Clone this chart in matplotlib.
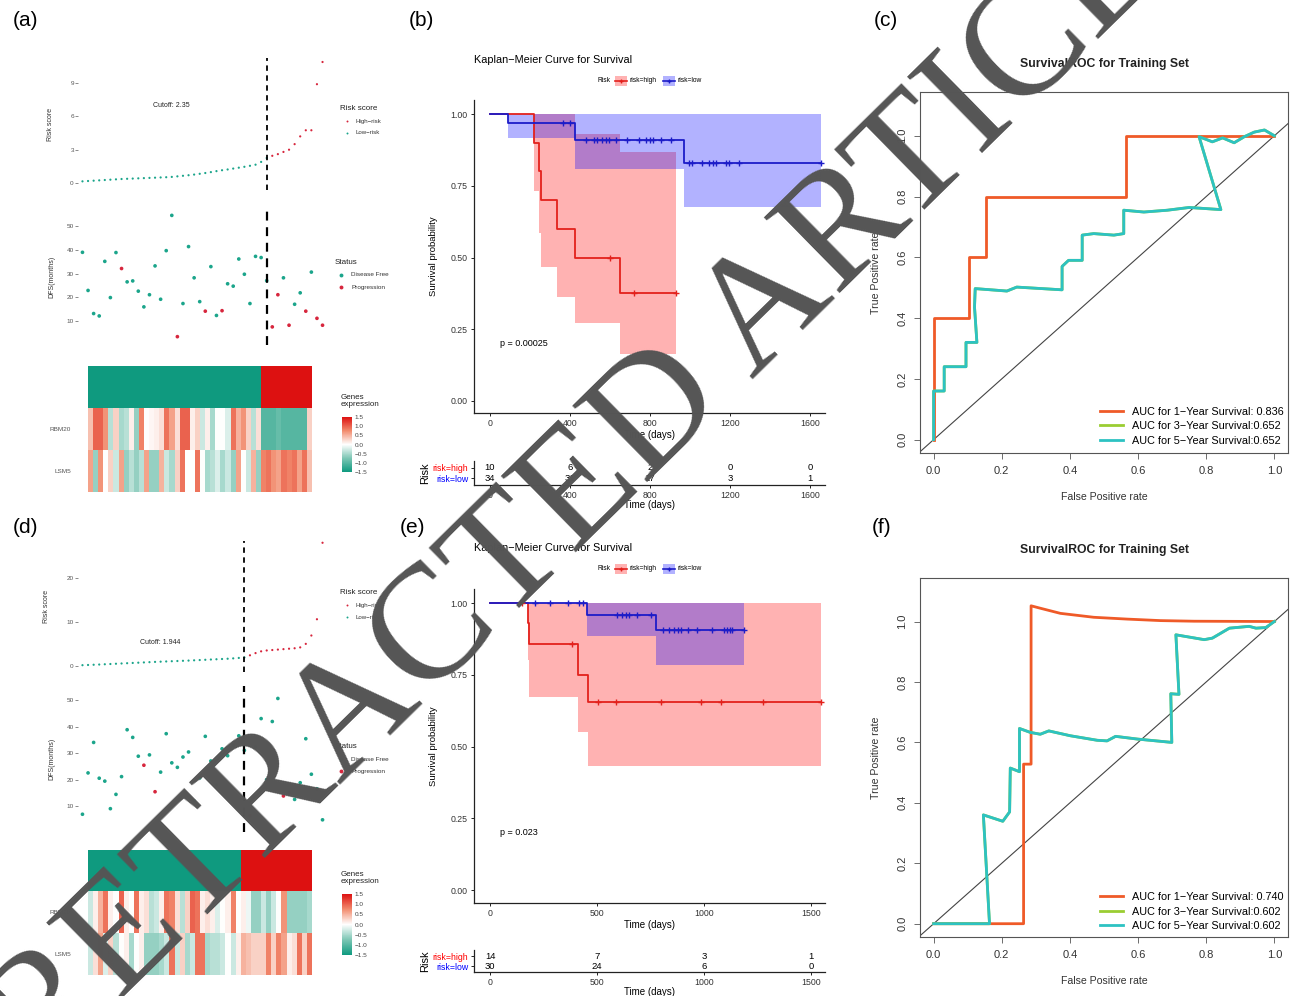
import numpy as np
import matplotlib
matplotlib.use('Agg')
import matplotlib.pyplot as plt
from matplotlib.colors import LinearSegmentedColormap
from matplotlib.lines import Line2D
from matplotlib.patches import Rectangle

plt.rcParams['font.family'] = ['Liberation Sans', 'DejaVu Sans']

W, H = 1296, 996

# ---------------- data: panel (a) ----------------
risk_a_low = [0.15, 0.18, 0.21, 0.24, 0.27, 0.30, 0.33, 0.36, 0.38, 0.40, 0.42, 0.44,
              0.46, 0.48, 0.50, 0.52, 0.55, 0.60, 0.65, 0.70, 0.76, 0.83, 0.90, 0.98,
              1.07, 1.15, 1.22, 1.30, 1.38, 1.46, 1.55, 1.65, 1.90, 2.25]
risk_a_high = [2.45, 2.6, 2.8, 3.0, 3.5, 4.2, 4.75, 4.75, 8.9, 10.9]
dfs_a = [38.9, 22.9, 13.2, 12.2, 35.1, 19.9, 38.8, 32.1, 26.5, 26.9, 22.6, 16.0,
         21.1, 33.2, 19.2, 39.6, 54.4, 3.5, 17.4, 41.3, 28.2, 18.2, 14.2, 32.9,
         12.4, 14.4, 25.7, 24.7, 36.1, 29.7, 17.4, 37.2, 36.7, 27.0,
         7.6, 21.1, 28.2, 8.3, 17.1, 21.9, 14.2, 30.6, 11.2, 8.3]
status_a = [0, 0, 0, 0, 0, 0, 0, 1, 0, 0, 0, 0, 0, 0, 0, 0, 0, 1, 0, 0, 0, 0, 1, 0,
            0, 1, 0, 0, 0, 0, 0, 0, 0, 0,
            1, 1, 0, 1, 0, 0, 1, 0, 1, 1]
rbm20_a = [0.4, 1.0, 1.0, 0.7, -0.4, 0.3, -0.5, -0.4, 0.1, -0.6, 0.8, 0.0, 0.05, 0.1,
           0.2, 0.9, 0.6, 0.2, 1.0, 1.0, 0.1, 0.3, -0.3, 0.1, -0.5, 0.0, 0.0, -0.2,
           0.9, 0.5, 0.7, 0.3, -0.4, 0.2,
           -1.0, -1.0, -1.0, -0.9, -1.0, -1.0, -1.0, -1.0, -1.0, 0.3]
lsm5_a = [0.6, -0.6, 0.7, 0.0, 0.3, -0.3, 0.6, -0.6, -0.4, -0.6, -0.4, 0.6, -0.6, -0.6,
          0.5, -0.3, -0.5, 0.3, 0.9, 0.0, 0.0, 0.9, 0.0, -0.5, -0.4, -0.2, -0.5, -0.3,
          -0.6, 0.6, 0.0, -0.3, 0.5, -0.6,
          0.8, 0.9, 0.7, 0.6, 0.9, 0.8, 0.9, 0.6, 0.9, 0.4]

# ---------------- data: panel (d) ----------------
risk_d_low = [0.15, 0.2, 0.25, 0.3, 0.36, 0.42, 0.48, 0.54, 0.6, 0.66, 0.72, 0.78, 0.84,
              0.9, 0.95, 1.0, 1.05, 1.1, 1.15, 1.2, 1.26, 1.32, 1.38, 1.44, 1.5, 1.56,
              1.62, 1.7, 1.8, 1.9]
risk_d_high = [2.4, 2.9, 3.3, 3.5, 3.6, 3.7, 3.8, 3.9, 4.0, 4.2, 5.0, 6.9, 10.6, 28.0]
dfs_d = [6.9, 22.5, 34.0, 20.5, 19.4, 9.0, 14.4, 21.1, 38.8, 35.9, 28.8, 25.4, 29.3, 15.4,
         22.8, 37.3, 26.3, 24.6, 28.5, 30.4, 11.9, 20.6, 36.3, 27.0, 18.0, 31.6, 29.0,
         33.0, 36.5, 31.0,
         6.3, 32.3, 43.0, 20.0, 41.9, 50.6, 13.8, 15.0, 12.5, 18.8, 35.4, 22.0, 16.5, 4.8]
status_d = [0, 0, 0, 0, 0, 0, 0, 0, 0, 0, 0, 1, 0, 1, 0, 0, 0, 0, 0, 0, 0, 0, 0, 0, 0,
            0, 0, 0, 0, 0,
            1, 0, 0, 0, 0, 0, 1, 1, 0, 0, 0, 0, 0, 0]
rbm20_d = [-0.3, 0.1, 0.5, 0.9, 0.1, 0.0, 1.0, 0.1, 0.0, 0.9, 0.1, 0.2, -0.4, -0.3, 0.1,
           0.9, 0.8, 0.2, -0.4, 0.3, 1.0, 0.9, 0.1, 0.2, 0.1, -0.2, 0.0, 0.1, 0.8, 0.0,
           0.1, -0.1, -0.6, -0.6, -0.3, -0.6, -0.3, 0.0, 0.7, -0.6, -0.6, -0.6, -0.6, -0.5]
lsm5_d = [-0.3, 0.2, 0.6, -0.2, 0.3, -0.4, 0.0, 0.1, -0.5, 0.0, 0.1, -0.6, -0.6, -0.6,
          -0.5, -0.3, 0.9, -0.3, 0.3, -0.5, -0.3, 0.9, 0.9, -0.5, -0.4, -0.4, -0.3, 0.0,
          -0.3, 0.1,
          0.5, 0.4, 0.3, 0.3, 0.3, 0.8, 0.3, 0.8, 0.6, 0.1, 0.2, 0.9, 0.3, 0.9]

# ---------------- data: KM (b) ----------------
b_high_t = [0, 220, 245, 253, 333, 423, 650, 930]
b_high_s = [1.0, 0.9, 0.8, 0.7, 0.6, 0.5, 0.375, 0.375]
b_high_lo = [1.0, 0.733, 0.587, 0.467, 0.362, 0.27, 0.162, 0.162]
b_high_up = [1.0, 1.0, 1.0, 1.0, 1.0, 0.93, 0.868, 0.868]
b_high_cens = [600, 720, 930]
b_low_t = [0, 92, 423, 970, 1653]
b_low_s = [1.0, 0.97, 0.909, 0.831, 0.831]
b_low_lo = [1.0, 0.915, 0.81, 0.677, 0.677]
b_low_up = [1.0, 1.0, 1.0, 1.0, 1.0]
b_low_cens = [365, 400, 478, 520, 537, 558, 578, 595, 632, 687, 745, 778, 798, 815,
              857, 903, 995, 1008, 1062, 1095, 1115, 1128, 1178, 1195, 1245, 1653]
b_ticks = [0, 400, 800, 1200, 1600]
b_risk_high = [10, 6, 2, 0, 0]
b_risk_low = [34, 31, 17, 3, 1]

# ---------------- data: KM (e) ----------------
e_high_t = [0, 176, 183, 412, 459, 1544]
e_high_s = [1.0, 0.929, 0.857, 0.75, 0.655, 0.655]
e_high_lo = [1.0, 0.80, 0.672, 0.55, 0.432, 0.432]
e_high_up = [1.0, 1.0, 1.0, 1.0, 1.0, 1.0]
e_high_cens = [148, 384, 503, 590, 797, 986, 1080, 1274, 1544]
e_low_t = [0, 451, 777, 1187]
e_low_s = [1.0, 0.959, 0.905, 0.905]
e_low_lo = [1.0, 0.885, 0.785, 0.785]
e_low_up = [1.0, 1.0, 1.0, 1.0]
e_low_cens = [212, 278, 365, 417, 432, 593, 616, 637, 648, 687, 750, 808, 836, 860,
              876, 892, 923, 967, 1038, 1091, 1107, 1119, 1130, 1187]
e_ticks = [0, 500, 1000, 1500]
e_risk_high = [14, 7, 3, 1]
e_risk_low = [30, 24, 6, 0]

# ---------------- data: ROC (c) ----------------
c_fpr1 = [0, 0, 0.103, 0.103, 0.155, 0.155, 0.565, 0.565, 1.0]
c_tpr1 = [0, 0.4, 0.4, 0.6, 0.6, 0.8, 0.8, 1.0, 1.0]
c_fpr5 = [0, 0, 0.031, 0.031, 0.095, 0.095, 0.127, 0.12, 0.122, 0.215, 0.244, 0.377,
          0.377, 0.396, 0.436, 0.436, 0.47, 0.529, 0.558, 0.558, 0.617, 0.686, 0.75,
          0.843, 0.779, 0.818, 0.848, 0.882, 0.912, 0.941, 0.971, 1.0]
c_tpr5 = [0, 0.16, 0.16, 0.24, 0.24, 0.32, 0.32, 0.436, 0.497, 0.489, 0.502, 0.493,
          0.57, 0.59, 0.59, 0.673, 0.678, 0.673, 0.678, 0.755, 0.749, 0.755, 0.764,
          0.757, 0.997, 0.98, 0.993, 0.977, 0.997, 1.012, 1.019, 1.0]
c_auc = ['0.836', '0.652', '0.652']

# ---------------- data: ROC (f) ----------------
f_fpr1 = [0, 0.264, 0.264, 0.286, 0.286, 0.313, 0.372, 0.47, 0.568, 0.666, 0.764, 1.0]
f_tpr1 = [0, 0, 0.528, 0.528, 1.052, 1.044, 1.027, 1.014, 1.008, 1.003, 1.001, 1.0]
f_fpr5 = [0, 0.164, 0.146, 0.203, 0.223, 0.225, 0.252, 0.252, 0.284, 0.313, 0.338,
          0.401, 0.48, 0.509, 0.534, 0.598, 0.699, 0.696, 0.72, 0.711, 0.794, 0.818,
          0.868, 0.926, 0.946, 0.975, 1.0]
f_tpr5 = [0, 0, 0.36, 0.339, 0.37, 0.515, 0.503, 0.646, 0.633, 0.627, 0.638, 0.622,
          0.607, 0.605, 0.62, 0.611, 0.6, 0.761, 0.759, 0.956, 0.94, 0.945, 0.978,
          0.984, 0.978, 0.98, 1.0]
f_auc = ['0.740', '0.602', '0.602']

# ---------------- styles ----------------
TEAL = '#1BA58B'
PRED = '#D7263D'
KM_RED = '#E3211C'
KM_BLUE = '#1C1CC8'
ROC_OR = '#EF5A28'
ROC_GR = '#9ACD32'
ROC_TE = '#2DC2C2'
heat_cmap = LinearSegmentedColormap.from_list(
    'ge', ['#0F9A7F', '#7CC6B4', '#FFFFFF', '#F28C6E', '#DD1111'])

fig = plt.figure(figsize=(W / 100, H / 100), dpi=100)


def px_axes(x0, y0, x1, y1):
    return fig.add_axes([x0 / W, 1 - y1 / H, (x1 - x0) / W, (y1 - y0) / H])


def ftext(x, y, s, **kw):
    return fig.text(x / W, 1 - y / H, s, **kw)


def fmark(x, y, **kw):
    fig.add_artist(Line2D([x / W], [1 - y / H], transform=fig.transFigure, **kw))


def gg_axes(ax, yticks):
    for sp in ax.spines.values():
        sp.set_visible(False)
    ax.set_xticks([])
    ax.set_yticks(yticks)
    ax.tick_params(axis='y', length=2, width=0.6, color='#777777', labelsize=4.6,
                   labelcolor='#555555', pad=1)


def risk_panel(risk_low, risk_high, dfs, status, rbm20, lsm5, cutoff, cut_xy,
               risk_box, risk_lim, risk_ticks, dfs_box, dfs_lim, heat_box, cb_box):
    n_low = len(risk_low)
    risk = list(risk_low) + list(risk_high)
    n = len(risk)
    idx = np.arange(1, n + 1)
    grp = np.array([0] * n_low + [1] * len(risk_high))

    ax = px_axes(78, risk_box[0], 327, risk_box[1])
    ax.scatter(idx, risk, s=2.5, c=np.where(grp == 1, PRED, TEAL), linewidths=0)
    ax.axvline(n_low, color='black', ls=(0, (3, 2.5)), lw=1.3)
    ax.text(cut_xy[0], cut_xy[1], 'Cutoff: ' + cutoff, fontsize=5, ha='center',
            va='center', color='#222222')
    ax.set_xlim(0.2, n + 0.8)
    ax.set_ylim(*risk_lim)
    gg_axes(ax, risk_ticks)
    ax.set_ylabel('Risk score', fontsize=5, color='#333333', labelpad=12)

    ax2 = px_axes(78, dfs_box[0], 327, dfs_box[1])
    st = np.array(status)
    ax2.scatter(idx, dfs, s=7, c=np.where(st == 1, PRED, TEAL), linewidths=0)
    ax2.axvline(n_low, color='black', ls=(0, (4, 3)), lw=1.6)
    ax2.set_xlim(0.2, n + 0.8)
    ax2.set_ylim(*dfs_lim)
    gg_axes(ax2, [10, 20, 30, 40, 50])
    ax2.set_ylabel('DFS(months)', fontsize=5, color='#333333', labelpad=8)

    # heatmap
    axh = px_axes(88, heat_box[0], 312, heat_box[1])
    mat = np.vstack([np.where(grp == 1, 1.5, -1.5), rbm20, lsm5])
    im = axh.imshow(mat, cmap=heat_cmap, vmin=-1.5, vmax=1.5, aspect='auto',
                    interpolation='nearest', extent=[0, n, 3, 0])
    for sp in axh.spines.values():
        sp.set_visible(False)
    axh.set_xticks([])
    axh.set_yticks([1.5, 2.5])
    axh.set_yticklabels(['RBM20', 'LSM5'])
    axh.tick_params(axis='y', length=0, labelsize=4.6, labelcolor='#555555', pad=12)

    axc = px_axes(342, cb_box[0], 352, cb_box[1])
    cb = fig.colorbar(im, cax=axc, ticks=[1.5, 1.0, 0.5, 0.0, -0.5, -1.0, -1.5])
    cb.outline.set_visible(False)
    cb.ax.tick_params(length=0, labelsize=4.6, labelcolor='#444444', pad=2)
    cb.ax.set_yticklabels(['1.5', '1.0', '0.5', '0.0', '\u22120.5', '\u22121.0',
                           '\u22121.5'])
    ftext(341, cb_box[0] - 16, 'Genes\nexpression', fontsize=5.8, va='center',
          color='#222222', linespacing=1.0)


risk_panel(risk_a_low, risk_a_high, dfs_a, status_a, rbm20_a, lsm5_a, '2.35',
           (17, 7.0), (58, 190), (-0.63, 11.26), [0, 3, 6, 9], (208, 345),
           (0, 57.5), (366, 492), (417, 472))
risk_panel(risk_d_low, risk_d_high, dfs_d, status_d, rbm20_d, lsm5_d, '1.944',
           (15, 5.2), (541, 672), (-1.4, 28.4), [0, 10, 20], (686, 832),
           (0.2, 55.3), (850, 975), (894, 955))

# legends of the scatter panels
for dy in [0, 484]:
    ftext(340, 108 + dy, 'Risk score', fontsize=5.8, va='center', color='#222222')
    fmark(347, 121 + dy, marker='o', ms=1.4, color=PRED, mew=0)
    ftext(356, 121 + dy, 'High\u2212risk', fontsize=4.4, va='center', color='#333333')
    fmark(347, 133 + dy, marker='o', ms=1.4, color=TEAL, mew=0)
    ftext(356, 133 + dy, 'Low\u2212risk', fontsize=4.4, va='center', color='#333333')
for y_t in [262, 746]:
    ftext(335, y_t, 'Status', fontsize=5.8, va='center', color='#222222')
    fmark(341, y_t + 13, marker='o', ms=2.8, color=TEAL, mew=0)
    ftext(351, y_t + 13, 'Disease Free', fontsize=4.6, va='center', color='#333333')
    fmark(341, y_t + 25, marker='o', ms=2.8, color=PRED, mew=0)
    ftext(351, y_t + 25, 'Progression', fontsize=4.6, va='center', color='#333333')


def step_lookup(t_arr, s_arr, t):
    i = np.searchsorted(t_arr, t, side='right') - 1
    return np.asarray(s_arr)[i]


def km_panel(box, xlim, ylim, xticks, high, low, pval, title_y, tbl_box, risk_high,
             risk_low):
    ax = px_axes(474, box[0], 825, box[1])
    groups = [high + (KM_RED, 'red'), low + (KM_BLUE, 'blue')]
    for (t, s, lo, up, cens, col, fill) in groups:
        ax.fill_between(t, lo, up, step='post', color=fill, alpha=0.3, lw=0)
    for (t, s, lo, up, cens, col, fill) in groups:
        ax.step(t, s, where='post', color=col, lw=1.3)
    for (t, s, lo, up, cens, col, fill) in groups[::-1]:
        ax.plot(cens, step_lookup(t, s, cens), ls='none', marker='+', ms=4, mew=1.0,
                color=col)
    ax.set_xlim(*xlim)
    ax.set_ylim(*ylim)
    ax.set_xticks(xticks)
    ax.set_yticks([0, 0.25, 0.5, 0.75, 1.0])
    ax.set_yticklabels(['0.00', '0.25', '0.50', '0.75', '1.00'])
    for sp in ['top', 'right']:
        ax.spines[sp].set_visible(False)
    for sp in ['left', 'bottom']:
        ax.spines[sp].set_linewidth(0.9)
        ax.spines[sp].set_color('#222222')
    ax.tick_params(labelsize=6.3, length=2.5, width=0.6, pad=2, labelcolor='#333333')
    ax.set_xlabel('Time (days)', fontsize=7, labelpad=1)
    ax.set_ylabel('Survival probability', fontsize=6.8, labelpad=9)
    ax.text(0.03 * xlim[1], 0.2, pval, fontsize=6.5, va='center')
    ftext(474, title_y, 'Kaplan\u2212Meier Curve for Survival', fontsize=7.8,
          va='center')
    # legend
    ly = title_y + 21
    ftext(597, ly, 'Risk', fontsize=4.8, va='center')
    for x0, col, fill, lab in [(615, KM_RED, 'red', 'risk=high'),
                               (663, KM_BLUE, 'blue', 'risk=low')]:
        fig.add_artist(Rectangle((x0 / W, 1 - (ly + 5) / H), 12 / W, 10 / H,
                                 transform=fig.transFigure, color=fill, alpha=0.3,
                                 lw=0))
        fig.add_artist(Line2D([x0 / W, (x0 + 12) / W], [1 - ly / H] * 2,
                              transform=fig.transFigure, color=col, lw=1.2))
        fmark(x0 + 6, ly, marker='+', ms=3.5, mew=1.0, color=col)
        ftext(x0 + 15, ly, lab, fontsize=4.8, va='center')

    # risk table
    axt = px_axes(474, tbl_box[0], 825, tbl_box[1])
    for i, tk in enumerate(xticks):
        axt.text(tk, 1, str(risk_high[i]), ha='center', va='center', fontsize=6.8)
        axt.text(tk, 0, str(risk_low[i]), ha='center', va='center', fontsize=6.8)
    axt.set_xlim(*xlim)
    axt.set_ylim(-0.6, 1.6)
    axt.set_xticks(xticks)
    axt.set_yticks([1, 0])
    axt.set_yticklabels(['risk=high', 'risk=low'])
    for sp in ['top', 'right']:
        axt.spines[sp].set_visible(False)
    for sp in ['left', 'bottom']:
        axt.spines[sp].set_linewidth(0.9)
        axt.spines[sp].set_color('#222222')
    axt.tick_params(labelsize=6.3, length=2.5, width=0.6, pad=1.5, labelcolor='#333333')
    for lab, col in zip(axt.get_yticklabels(), ['red', 'blue']):
        lab.set_color(col)
    axt.set_xlabel('Time (days)', fontsize=7, labelpad=0)
    axt.set_ylabel('Risk', fontsize=8, labelpad=2)


km_panel((100, 413), (-80, 1675), (-0.042, 1.049), b_ticks,
         (b_high_t, b_high_s, b_high_lo, b_high_up, b_high_cens),
         (b_low_t, b_low_s, b_low_lo, b_low_up, b_low_cens),
         'p = 0.00025', 60, (461, 485), b_risk_high, b_risk_low)
km_panel((589, 903), (-75, 1565), (-0.045, 1.049), e_ticks,
         (e_high_t, e_high_s, e_high_lo, e_high_up, e_high_cens),
         (e_low_t, e_low_s, e_low_lo, e_low_up, e_low_cens),
         'p = 0.023', 548, (950, 972), e_risk_high, e_risk_low)


def roc_panel(box, fpr1, tpr1, fpr5, tpr5, auc, title_y, leg_y):
    ax = px_axes(920, box[0], 1288, box[1])
    ax.plot([-1, 2], [-1, 2], color='#444444', lw=0.8)
    ax.plot(fpr1, tpr1, color=ROC_OR, lw=2.0,
            label='AUC for 1\u2212Year Survival: ' + auc[0])
    ax.plot(fpr5, tpr5, color=ROC_GR, lw=2.0,
            label='AUC for 3\u2212Year Survival:' + auc[1])
    ax.plot(fpr5, tpr5, color=ROC_TE, lw=2.0,
            label='AUC for 5\u2212Year Survival:' + auc[2])
    ax.set_xlim(-0.04, 1.04)
    ax.set_ylim(-0.044, 1.144)
    ax.set_xticks(np.arange(0, 1.01, 0.2))
    ax.set_yticks(np.arange(0, 1.01, 0.2))
    ax.set_xticklabels(['0.0', '0.2', '0.4', '0.6', '0.8', '1.0'])
    ax.set_yticklabels(['0.0', '0.2', '0.4', '0.6', '0.8', '1.0'], rotation=90,
                       va='center')
    for sp in ax.spines.values():
        sp.set_color('#555555')
        sp.set_linewidth(0.8)
    ax.tick_params(labelsize=8, length=4, width=0.6, color='#555555',
                   labelcolor='#333333', pad=5)
    ax.set_xlabel('False Positive rate', fontsize=7.6, color='#333333', labelpad=12)
    ax.set_ylabel('True Positive rate', fontsize=7.6, color='#333333', labelpad=12)
    ax.legend(loc='lower right', bbox_to_anchor=(1.005, leg_y), frameon=False,
              fontsize=7.8, handlelength=2.1, labelspacing=0.42, borderaxespad=0.2,
              handletextpad=0.8)
    ftext(1104, title_y, 'SurvivalROC for Training Set', fontsize=8.8,
          fontweight='bold', ha='center', va='center', color='#222222')


roc_panel((92, 453), c_fpr1, c_tpr1, c_fpr5, c_tpr5, c_auc, 64, 0.002)
roc_panel((578, 937), f_fpr1, f_tpr1, f_fpr5, f_tpr5, f_auc, 550, -0.002)

# panel letters
for lab, x, y in [('(a)', 26, 21), ('(b)', 421, 21), ('(c)', 886, 21),
                  ('(d)', 26, 527), ('(e)', 412, 527), ('(f)', 882, 527)]:
    ftext(x, y, lab, fontsize=15, ha='center', va='center')

# watermark
ftext(612, 462, 'RETRACTED ARTICLE', fontsize=118, family='Liberation Serif',
      color='#555555', rotation=44.5, ha='center', va='center',
      rotation_mode='anchor', zorder=20)

fig.savefig('out.png', dpi=100)
